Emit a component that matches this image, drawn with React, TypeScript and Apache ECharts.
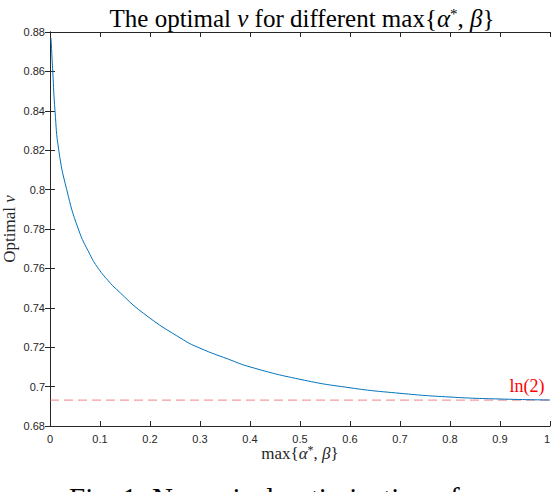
import React, { useEffect, useRef } from "react";
import * as echarts from "echarts";

// values
const xs = [0.002, 0.0055, 0.01, 0.0175, 0.0334, 0.0566, 0.08, 0.0966, 0.1166, 0.133, 0.187, 0.267, 0.3, 0.357, 0.4, 0.5, 0.6, 0.7, 0.8, 0.9, 1];
const nu = [0.877, 0.86, 0.84, 0.82, 0.8, 0.78, 0.767, 0.76, 0.7537, 0.7494, 0.7372, 0.7237, 0.7195, 0.7139, 0.71, 0.7037, 0.6994, 0.6966, 0.6947, 0.6937, 0.6932];
const LN2 = Math.LN2;
const xRange = [0, 1];
const yRange = [0.68, 0.88];

const AXIS = "#262626";
const SERIF = "'Liberation Serif', 'DejaVu Serif', serif";
const SANS = "'Liberation Sans', Arial, sans-serif";

const App = () => {
    const chartRef = useRef<HTMLDivElement>(null);

    useEffect(() => {
        const chart = echarts.init(chartRef.current, null, { renderer: "svg" });

        // MATLAB style box: ticks pointing inward on all four sides
        const frameAxis = {
            type: "value",
            axisLine: { show: true, lineStyle: { color: AXIS, width: 1 } },
            axisTick: { show: true, inside: true, length: 5, lineStyle: { color: AXIS } },
            splitLine: { show: false },
        };
        const italic = { fontStyle: "italic", fontFamily: SERIF, fontSize: 17, color: AXIS };
        const sup = { fontFamily: SERIF, fontSize: 12, color: AXIS, padding: [0, 0, 7, 0] };

        const option = {
            animation: false,
            backgroundColor: "#fff",
            title: {
                text: "The optimal {i|ν} for different max{{i|α}{s|*}, {i|β}}",
                left: 297,
                textAlign: "center",
                top: 1,
                textStyle: {
                    fontFamily: SERIF,
                    fontSize: 25,
                    fontWeight: "normal",
                    color: "#000",
                    rich: {
                        i: { fontFamily: SERIF, fontSize: 25, fontStyle: "italic", color: "#000" },
                        s: { fontFamily: SERIF, fontSize: 15, color: "#000", padding: [0, 0, 9, 0] },
                    },
                },
            },
            grid: { left: 50, right: 2, top: 32, bottom: 66, outerBoundsMode: "none" },
            xAxis: [
                {
                    ...frameAxis,
                    min: xRange[0],
                    max: xRange[1],
                    interval: 0.1,
                    position: "bottom",
                    name: "max{{i|α}{s|*}, {i|β}}",
                    nameLocation: "middle",
                    nameMoveOverlap: false,
                    nameGap: 18,
                    nameTextStyle: {
                        fontFamily: SERIF,
                        fontSize: 17,
                        color: AXIS,
                        rich: { i: italic, s: sup },
                    },
                    axisLabel: {
                        color: AXIS,
                        fontFamily: SANS,
                        fontSize: 11,
                        margin: 7,
                        showMinLabel: true,
                        showMaxLabel: true,
                        alignMaxLabel: "right",
                    },
                },
                {
                    ...frameAxis,
                    min: xRange[0],
                    max: xRange[1],
                    interval: 0.1,
                    position: "top",
                    axisLabel: { show: false },
                },
            ],
            yAxis: [
                {
                    ...frameAxis,
                    min: yRange[0],
                    max: yRange[1],
                    interval: 0.02,
                    position: "left",
                    name: "Optimal {i|ν}",
                    nameLocation: "middle",
                    nameRotate: 90,
                    nameMoveOverlap: false,
                    nameGap: 32,
                    nameTextStyle: {
                        fontFamily: SERIF,
                        fontSize: 17,
                        color: AXIS,
                        rich: { i: italic },
                    },
                    axisLabel: {
                        color: AXIS,
                        fontFamily: SANS,
                        fontSize: 11,
                        margin: 5,
                        showMinLabel: true,
                        showMaxLabel: true,
                    },
                },
                {
                    ...frameAxis,
                    min: yRange[0],
                    max: yRange[1],
                    interval: 0.02,
                    position: "right",
                    axisLabel: { show: false },
                },
            ],
            series: [
                {
                    name: "ln2",
                    type: "line",
                    xAxisIndex: 0,
                    yAxisIndex: 0,
                    z: 1,
                    symbol: "circle",
                    symbolSize: 0,
                    showSymbol: true,
                    lineStyle: { color: "rgba(240, 90, 90, 0.6)", width: 1.2, type: [9, 5] },
                    itemStyle: { color: "rgba(0,0,0,0)" },
                    data: [
                        [xRange[0], LN2],
                        {
                            value: [xRange[1], LN2],
                            label: {
                                show: true,
                                formatter: "ln(2)",
                                position: "top",
                                offset: [-23, 0],
                                color: "#ff0000",
                                fontFamily: SERIF,
                                fontSize: 18,
                            },
                        },
                    ],
                },
                {
                    name: "optimal nu",
                    type: "line",
                    xAxisIndex: 0,
                    yAxisIndex: 0,
                    z: 2,
                    showSymbol: false,
                    smooth: 0.5,
                    lineStyle: { color: "#0072BD", width: 1 },
                    data: xs.map((x, i) => [x, nu[i]]),
                },
            ],
            graphic: [
                {
                    // caption of the paper figure, cut off by the crop
                    type: "text",
                    left: 69,
                    top: 483,
                    style: {
                        text: "Fig. 1: Numerical optimization of",
                        font: `29px ${SERIF}`,
                        fill: "#000",
                    },
                },
            ],
        };

        chart.setOption(option);

        return () => {
            chart.dispose();
        };
    }, []);

    return (
        <div
            ref={chartRef}
            style={{ position: "absolute", left: 0, top: 0, width: 552, height: 492 }}
        />
    );
};

export default App;
